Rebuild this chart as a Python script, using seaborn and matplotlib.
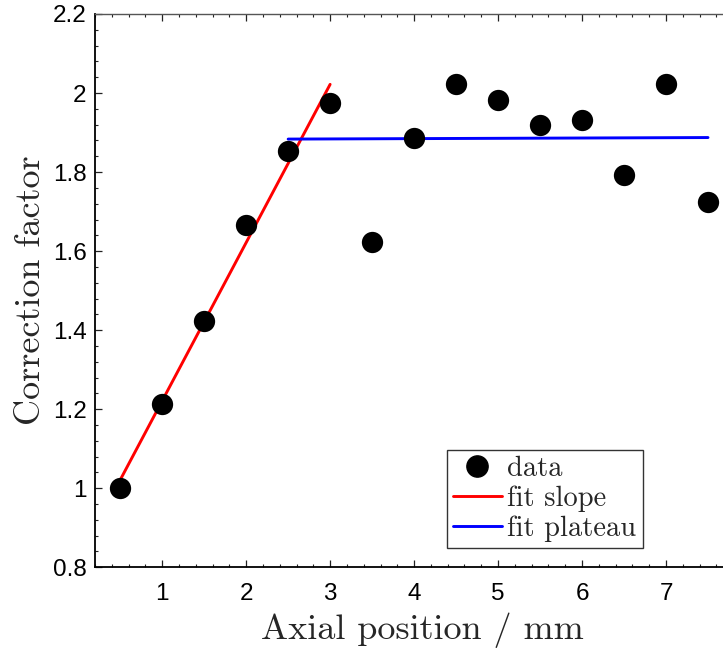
import matplotlib
matplotlib.use("Agg")
import matplotlib.pyplot as plt
import seaborn as sns
import pandas as pd
from matplotlib.lines import Line2D
from matplotlib.ticker import MultipleLocator

# data
pos = [0.5, 1.0, 1.5, 2.0, 2.5, 3.0, 3.5, 4.0, 4.5, 5.0, 5.5, 6.0, 6.5, 7.0, 7.5]
corr = [1.000, 1.214, 1.424, 1.665, 1.853, 1.974, 1.623, 1.886, 2.023,
        1.982, 1.920, 1.932, 1.793, 2.022, 1.725]
slope_x = [0.5, 3.0]
slope_y = [1.021, 2.022]
plateau_x = [2.5, 7.5]
plateau_y = [1.8835, 1.8874]

sns.set_theme(style="white")
plt.rcParams['font.family'] = ['Liberation Sans', 'DejaVu Sans']

fig = plt.figure(figsize=(7.23, 6.48), dpi=100)
# axes runs past the right edge of the figure (cropped like the reference)
ax = fig.add_axes([95/723, 1 - 567.3/648, (750 - 95)/723, (567.3 - 14)/648])

df = pd.DataFrame({"x": pos, "y": corr})
sns.scatterplot(data=df, x="x", y="y", ax=ax, color="black", s=235,
                linewidth=0, zorder=3, legend=False)
sns.lineplot(x=slope_x, y=slope_y, ax=ax, color="#ff0000", linewidth=2.1,
             zorder=2, legend=False)
sns.lineplot(x=plateau_x, y=plateau_y, ax=ax, color="#0000ff", linewidth=2.1,
             zorder=2, legend=False)

ax.set_xlim(0.2, 8.0)
ax.set_ylim(0.8, 2.2)
ax.xaxis.set_minor_locator(MultipleLocator(0.2))
ax.yaxis.set_minor_locator(MultipleLocator(0.04))
ax.set_xticks([1, 2, 3, 4, 5, 6, 7])
ax.set_xticklabels(["1", "2", "3", "4", "5", "6", "7"])
ax.set_yticks([0.8, 1.0, 1.2, 1.4, 1.6, 1.8, 2.0, 2.2])
ax.set_yticklabels(["0.8", "1", "1.2", "1.4", "1.6", "1.8", "2", "2.2"])

ax.tick_params(which="both", direction="in", top=True, right=False,
               bottom=True, left=True, colors="#222222", labelcolor="black")
ax.tick_params(which="major", length=5, width=0.9, labelsize=17.5)
ax.tick_params(which="minor", length=2.5, width=0.8)
ax.tick_params(axis="x", which="major", pad=11)
ax.tick_params(axis="y", which="major", pad=6)

for side in ["left", "bottom"]:
    ax.spines[side].set_color("black")
    ax.spines[side].set_linewidth(1.3)
ax.spines["top"].set_color("#555555")
ax.spines["top"].set_linewidth(1.0)
ax.spines["right"].set_visible(False)

ax.set_xlabel("Axial position / mm", fontfamily="cmr10", fontsize=26, labelpad=6)
ax.set_ylabel("Correction factor", fontfamily="cmr10", fontsize=26, labelpad=4)

handles = [
    Line2D([], [], marker="o", linestyle="none", color="black", markersize=15.3),
    Line2D([], [], color="#ff0000", linewidth=2.1),
    Line2D([], [], color="#0000ff", linewidth=2.1),
]
# legend anchored at reference pixel box (447, 548) in axes fraction
lx = (447 - 95) / (750 - 95)
ly = (567.3 - 548.3) / (567.3 - 14)
leg = ax.legend(handles, ["data", "fit slope", "fit plateau"],
                loc="lower left", bbox_to_anchor=(lx, ly),
                borderaxespad=0, prop={"family": "cmr10", "size": 20.5},
                frameon=True, fancybox=False, edgecolor="black",
                handlelength=1.7, handletextpad=0.2, labelspacing=0.12,
                borderpad=0.22)
leg.get_frame().set_linewidth(1.0)

fig.savefig("out.png", dpi=100)
